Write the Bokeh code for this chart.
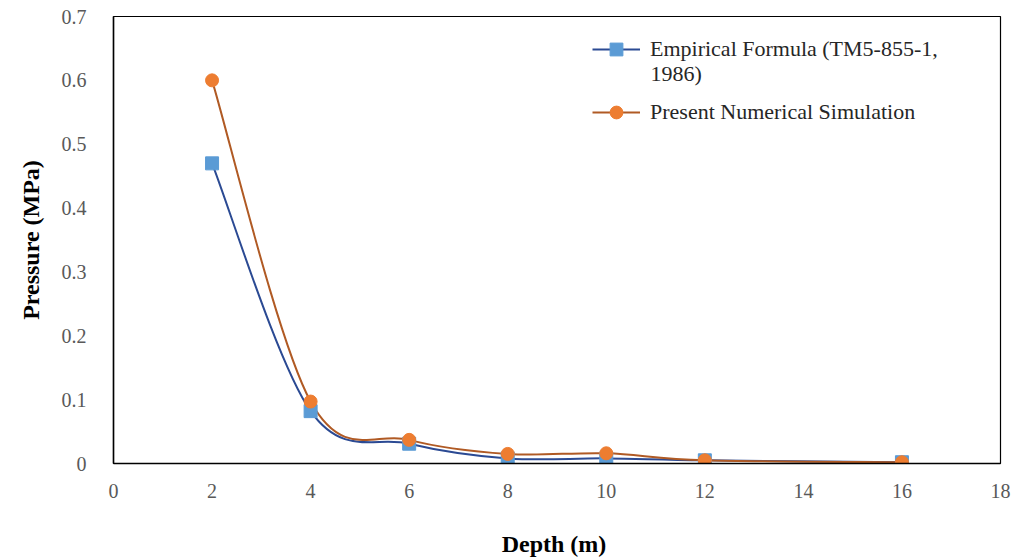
from bokeh.plotting import figure
from bokeh.models import (Range1d, FixedTicker, Legend, LegendItem, ColumnDataSource,
                          Label, Title)
from bokeh.embed import file_html
from bokeh.resources import INLINE

# Depth (m) and peak pressure (MPa)
depth = [2, 4, 6, 8, 10, 12, 16]
empirical = [0.47, 0.082, 0.031, 0.008, 0.008, 0.005, 0.002]
numerical = [0.60, 0.097, 0.037, 0.015, 0.016, 0.005, 0.002]
x_ticks = [0, 2, 4, 6, 8, 10, 12, 14, 16, 18]
y_ticks = [0, 0.1, 0.2, 0.3, 0.4, 0.5, 0.6, 0.7]

SERIF = "Liberation Serif"


def smooth_segments(xs, ys, k=1.0 / 6.0):
    """Cubic Bezier control points for a Catmull-Rom style smoothed line."""
    n = len(xs)
    px = [xs[0]] + list(xs) + [xs[-1]]
    py = [ys[0]] + list(ys) + [ys[-1]]
    seg = dict(x0=[], y0=[], x1=[], y1=[], cx0=[], cy0=[], cx1=[], cy1=[])
    for i in range(1, n):
        seg["x0"].append(px[i]); seg["y0"].append(py[i])
        seg["x1"].append(px[i + 1]); seg["y1"].append(py[i + 1])
        seg["cx0"].append(px[i] + (px[i + 1] - px[i - 1]) * k)
        seg["cy0"].append(py[i] + (py[i + 1] - py[i - 1]) * k)
        seg["cx1"].append(px[i + 1] - (px[i + 2] - px[i]) * k)
        seg["cy1"].append(py[i + 1] - (py[i + 2] - py[i]) * k)
    return ColumnDataSource(seg)


p = figure(width=1020, height=559, output_backend="svg", toolbar_location=None,
           x_range=Range1d(0, 18), y_range=Range1d(0, 0.7),
           min_border_left=113, min_border_right=20, min_border_top=16,
           min_border_bottom=96)
p.background_fill_color = "white"
p.border_fill_color = "white"
p.outline_line_color = "black"
p.outline_line_width = 1.2
p.xgrid.visible = False
p.ygrid.visible = False

for ax in (p.xaxis, p.yaxis):
    ax.major_tick_line_color = None
    ax.minor_tick_line_color = None
    ax.axis_line_color = "black"
    ax.axis_line_width = 1.5
    ax.major_label_text_font = SERIF
    ax.major_label_text_font_size = "20px"
    ax.major_label_text_color = "#595959"
    ax.axis_label_text_font = SERIF
    ax.axis_label_text_font_style = "bold"
    ax.axis_label_text_font_size = "24px"
    ax.axis_label_text_color = "black"

p.xaxis.ticker = FixedTicker(ticks=x_ticks)
p.yaxis.ticker = FixedTicker(ticks=y_ticks)
p.xaxis.major_label_standoff = 14
p.yaxis.major_label_standoff = 21
p.xaxis.axis_label = "Depth  (m)"
p.xaxis.axis_label_standoff = 30

# vertical axis title, sitting a little below the frame's centre
p.add_layout(Title(text="Pressure (MPa)", align="center", offset=-72, standoff=30,
                   text_font=SERIF, text_font_size="24px", text_font_style="bold",
                   text_color="black"), "left")

emp_line = p.bezier(x0="x0", y0="y0", x1="x1", y1="y1", cx0="cx0", cy0="cy0",
                    cx1="cx1", cy1="cy1", source=smooth_segments(depth, empirical),
                    line_color="#2B4A93", line_width=2)
num_line = p.bezier(x0="x0", y0="y0", x1="x1", y1="y1", cx0="cx0", cy0="cy0",
                    cx1="cx1", cy1="cy1", source=smooth_segments(depth, numerical),
                    line_color="#B05A24", line_width=2)
emp_pts = p.scatter(depth, empirical, marker="square", size=13,
                    fill_color="#5B9BD5", line_color="#5B9BD5")
num_pts = p.scatter(depth, numerical, marker="circle", size=13,
                    fill_color="#ED7D31", line_color="#ED7D31")

legend = Legend(items=[
    LegendItem(label="Empirical Formula (TM5-855-1,", renderers=[emp_line, emp_pts]),
    LegendItem(label="Present Numerical Simulation", renderers=[num_line, num_pts]),
], location=(479, 335))
legend.label_text_font = SERIF
legend.label_text_font_size = "22px"
legend.label_text_color = "#262626"
legend.label_standoff = 10
legend.glyph_width = 48
legend.glyph_height = 32
legend.spacing = 31
legend.border_line_color = None
legend.background_fill_alpha = 0
p.add_layout(legend)

# wrapped second line of the first legend entry
p.add_layout(Label(x=537, y=390, x_units="screen", y_units="screen", text="1986)",
                   text_font=SERIF, text_font_size="22px", text_color="#262626",
                   text_baseline="middle", text_align="left"))

open("out.html", "w").write(file_html(p, INLINE))
